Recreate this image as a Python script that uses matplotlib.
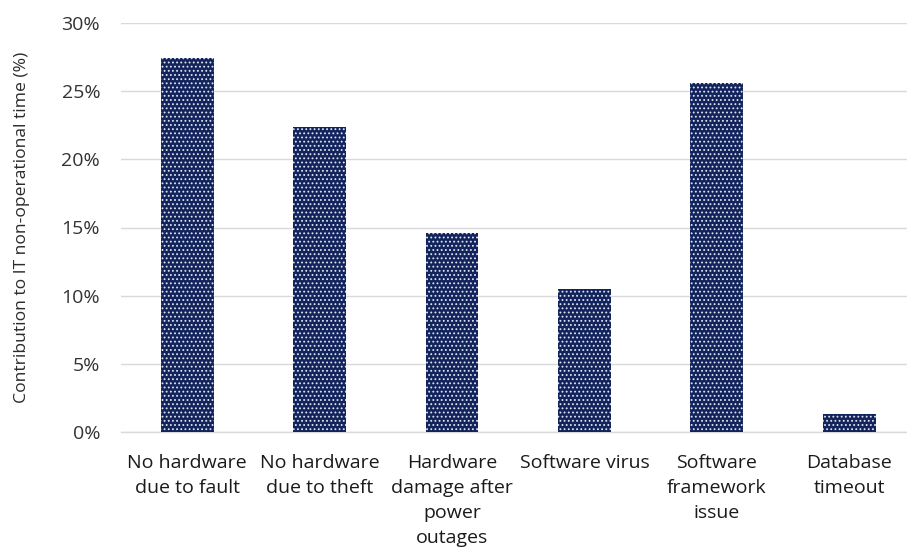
import matplotlib
matplotlib.use("Agg")
import matplotlib.pyplot as plt
from matplotlib.ticker import FuncFormatter, MultipleLocator

categories = [
    "No hardware\ndue to fault",
    "No hardware\ndue to theft",
    "Hardware\ndamage after\npower\noutages",
    "Software virus",
    "Software\nframework\nissue",
    "Database\ntimeout",
]
values = [27.4, 22.4, 14.6, 10.5, 25.6, 1.3]

plt.rcParams["font.family"] = ["Open Sans", "DejaVu Sans"]
plt.rcParams["hatch.linewidth"] = 0.8

W, H = 907, 552
fig = plt.figure(figsize=(W / 100, H / 100), dpi=100)
left, right = 121, 121 + 6 * 132.4
top, bottom = 23, 432
ax = fig.add_axes([left / W, (H - bottom) / H, (right - left) / W, (bottom - top) / H])

x = list(range(len(categories)))
ax.bar(x, values, width=0.4, color="#13245c", edgecolor="#dfe4ef", linewidth=0, hatch="....", zorder=3)

ax.set_xlim(-0.5, 5.5)
ax.set_ylim(0, 30)
ax.yaxis.set_major_locator(MultipleLocator(5))
ax.yaxis.set_major_formatter(FuncFormatter(lambda v, p: f"{int(v)}%"))
ax.grid(axis="y", color="#d9d9d9", linewidth=1.0, zorder=0)
for s in ["top", "right", "left"]:
    ax.spines[s].set_visible(False)
ax.spines["bottom"].set_color("#d9d9d9")
ax.spines["bottom"].set_linewidth(1.0)
ax.tick_params(axis="both", length=0, labelsize=14, colors="#333333")
ax.tick_params(axis="y", pad=15)
ax.tick_params(axis="x", pad=16)
ax.set_xticks(x)
ax.set_xticklabels(categories, linespacing=1.5, color="#1a1a1a")
ax.set_ylabel("Contribution to IT non-operational time (%)", fontsize=12.6, color="#2b2b2b")
ax.yaxis.set_label_coords(-91 / (right - left), 0.5)

fig.savefig("out.png", dpi=100)
